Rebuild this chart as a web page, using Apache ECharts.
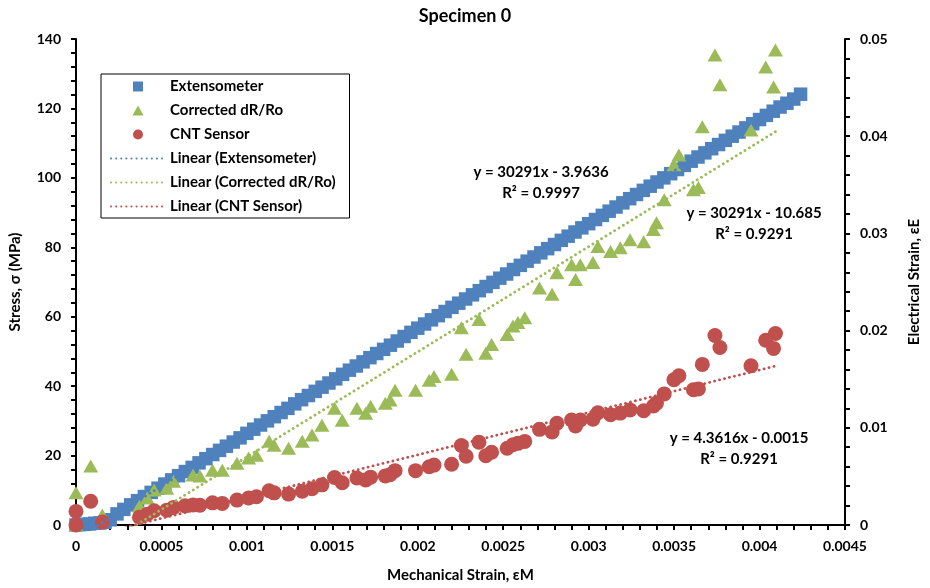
<!DOCTYPE html>
<html>
<head>
<meta charset="utf-8">
<script src="https://cdn.jsdelivr.net/npm/echarts@6/dist/echarts.min.js"></script>
<style>
  html, body { margin: 0; padding: 0; background: #fff; }
  #chart { width: 930px; height: 588px; }
</style>
</head>
<body>
<div id="chart"></div>
<script>
// extensometer: [mechanical strain, stress MPa]
const extensometer = [
  [0, 0], [0.00002, 0.1], [0.00005, 0.2], [0.00008, 0.3], [0.00011, 0.5], [0.00014, 0.6], [0.00017, 0.8], [0.0002, 1.5],
  [0.00024, 3.2], [0.00028, 4.5], [0.00032, 5.8], [0.00036, 7.0], [0.0004, 8.2], [0.00044, 9.4], [0.00048, 10.6], [0.00052, 11.8],
  [0.00056, 13.0], [0.0006, 14.2], [0.00064, 15.4], [0.00068, 16.6], [0.00072, 17.9], [0.00076, 19.1], [0.0008, 20.3], [0.00084, 21.5],
  [0.00088, 22.7], [0.00092, 23.9], [0.00096, 25.1], [0.001, 26.4], [0.00104, 27.6], [0.00108, 28.8], [0.00112, 30.0], [0.00116, 31.2],
  [0.0012, 32.4], [0.00124, 33.6], [0.00128, 34.9], [0.00132, 36.1], [0.00136, 37.3], [0.0014, 38.5], [0.00144, 39.7], [0.00148, 40.9],
  [0.00152, 42.1], [0.00156, 43.4], [0.0016, 44.6], [0.00164, 45.8], [0.00168, 47.0], [0.00172, 48.2], [0.00176, 49.4], [0.0018, 50.6],
  [0.00184, 51.8], [0.00188, 53.0], [0.00192, 54.3], [0.00196, 55.5], [0.002, 56.7], [0.00204, 57.9], [0.00208, 59.1], [0.00212, 60.3],
  [0.00216, 61.5], [0.0022, 62.7], [0.00224, 63.9], [0.00228, 65.1], [0.00232, 66.3], [0.00236, 67.5], [0.0024, 68.7], [0.00244, 69.9],
  [0.00248, 71.1], [0.00252, 72.3], [0.00256, 73.6], [0.0026, 74.8], [0.00264, 76.0], [0.00268, 77.2], [0.00272, 78.4], [0.00276, 79.6],
  [0.0028, 80.8], [0.00284, 82.0], [0.00288, 83.2], [0.00292, 84.4], [0.00296, 85.6], [0.003, 86.8], [0.00304, 88.0], [0.00308, 89.2],
  [0.00312, 90.4], [0.00316, 91.6], [0.0032, 92.8], [0.00324, 94.0], [0.00328, 95.2], [0.00332, 96.4], [0.00336, 97.6], [0.0034, 98.8],
  [0.00344, 100.0], [0.00348, 101.2], [0.00352, 102.4], [0.00356, 103.6], [0.0036, 104.8], [0.00364, 106.0], [0.00368, 107.2], [0.00372, 108.4],
  [0.00376, 109.6], [0.0038, 110.8], [0.00384, 112.0], [0.00388, 113.2], [0.00392, 114.4], [0.00396, 115.6], [0.004, 116.8], [0.00404, 118.0],
  [0.00408, 119.2], [0.00412, 120.4], [0.00416, 121.5], [0.0042, 122.7], [0.00424, 124.1]
];

// corrected dR/Ro: [mechanical strain, stress MPa]
const corrected = [
  [0, 0], [0, 9.3], [0.000086, 17.0], [0.000154, 2.9], [0.000371, 5.5], [0.000417, 7.8], [0.000457, 10.1], [0.000531, 10.6],
  [0.000571, 12.6], [0.000685, 14.4], [0.000725, 14.1], [0.000799, 15.8], [0.000856, 15.8], [0.000942, 17.8], [0.00101, 19.3], [0.001056, 20.1],
  [0.00113, 24.1], [0.001159, 23.0], [0.001244, 22.1], [0.001324, 24.1], [0.001381, 25.9], [0.001439, 28.7], [0.001513, 33.6], [0.001558, 30.2],
  [0.001644, 33.6], [0.001695, 32.2], [0.001724, 34.2], [0.00181, 35.1], [0.001838, 36.0], [0.001867, 38.8], [0.001987, 38.8], [0.002067, 41.7],
  [0.002095, 42.8], [0.002198, 43.4], [0.002255, 56.8], [0.002283, 49.2], [0.002358, 59.2], [0.002398, 49.5], [0.002432, 52.0], [0.002523, 54.9],
  [0.002557, 57.3], [0.002586, 58.3], [0.002626, 59.7], [0.002712, 68.3], [0.002786, 66.5], [0.002814, 72.7], [0.0029, 75.0], [0.002923, 70.7],
  [0.002951, 75.0], [0.003025, 75.6], [0.003054, 80.2], [0.003128, 78.8], [0.003185, 79.9], [0.003242, 82.2], [0.003322, 81.6], [0.003379, 85.1],
  [0.003397, 87.1], [0.003442, 93.7], [0.003499, 103.8], [0.003528, 106.6], [0.003613, 96.6], [0.003642, 97.2], [0.003665, 114.7], [0.003739, 135.4],
  [0.003768, 126.8], [0.00395, 113.8], [0.004036, 131.9], [0.004082, 126.2], [0.004093, 136.8]
];

// CNT sensor: [mechanical strain, electrical strain]
const cntSensor = [
  [0, 0], [0, 0.0014], [0.000086, 0.00245], [0.000154, 0.0003], [0.000371, 0.0008], [0.000417, 0.0011], [0.000457, 0.00146], [0.000531, 0.00153],
  [0.000571, 0.00181], [0.000639, 0.00197], [0.000685, 0.00207], [0.000725, 0.00203], [0.000799, 0.00228], [0.000856, 0.00222], [0.000942, 0.00256], [0.00101, 0.00278],
  [0.001056, 0.0029], [0.00113, 0.00352], [0.001159, 0.00331], [0.001244, 0.00318], [0.001324, 0.00347], [0.001381, 0.00373], [0.001439, 0.00413], [0.001513, 0.00488],
  [0.001558, 0.00435], [0.001644, 0.00484], [0.001695, 0.00464], [0.001724, 0.00492], [0.00181, 0.00505], [0.001838, 0.00518], [0.001867, 0.00559], [0.001987, 0.00559],
  [0.002067, 0.006], [0.002095, 0.00616], [0.002198, 0.00625], [0.002255, 0.00818], [0.002283, 0.00708], [0.002358, 0.00852], [0.002398, 0.00713], [0.002432, 0.00749],
  [0.002523, 0.0079], [0.002557, 0.00825], [0.002586, 0.0084], [0.002626, 0.0086], [0.002712, 0.00984], [0.002786, 0.00958], [0.002814, 0.01047], [0.0029, 0.0108],
  [0.002923, 0.01018], [0.002951, 0.0108], [0.003025, 0.01089], [0.003054, 0.01155], [0.003128, 0.01135], [0.003185, 0.01151], [0.003242, 0.01184], [0.003322, 0.01175],
  [0.003379, 0.01225], [0.003397, 0.01254], [0.003442, 0.01349], [0.003499, 0.01495], [0.003528, 0.01535], [0.003613, 0.01391], [0.003642, 0.014], [0.003665, 0.01652],
  [0.003739, 0.0195], [0.003768, 0.01826], [0.00395, 0.01639], [0.004036, 0.019], [0.004082, 0.01817], [0.004093, 0.0197]
];

const scatterNames = ["Extensometer", "Corrected dR/Ro", "CNT Sensor"];

// trendlines as printed on the chart
const trendNames = ["Linear (Extensometer)", "Linear (Corrected dR/Ro)", "Linear (CNT Sensor)"];
const trendSlope = [30291, 30291, 4.3616];
const trendIntercept = [-3.9636, -10.685, -0.0015];
const trendRange = [[0, 0.00424], [0, 0.004093], [0, 0.004093]];
const trendAxis = [0, 0, 1];
const trendText = [
  ["y = 30291x - 3.9636", "R² = 0.9997"],
  ["y = 30291x - 10.685", "R² = 0.9291"],
  ["y = 4.3616x - 0.0015", "R² = 0.9291"]
];
const trendTextPos = [[541, 162], [754, 203], [739, 428]];

const colors = ["#4F81BD", "#9BBB59", "#C0504D"];
const FONT = "Lato, 'Open Sans', sans-serif";

// legend icons keep their aspect only as paths
const legendIcons = [
    "path://M0,0H10V10H0Z",
    "path://M5,0L10,9L0,9Z",
    "path://M5,0A5,5,0,1,1,5,10A5,5,0,1,1,5,0Z"
];

const chart = echarts.init(document.getElementById("chart"));

const axisCommon = {
    axisLine: { show: true, onZero: false, lineStyle: { color: "#000", width: 2 } },
    axisTick: { show: true, inside: false, length: 5, lineStyle: { color: "#000", width: 2 } },
    minorTick: { show: true, splitNumber: 5, length: 5, lineStyle: { color: "#000", width: 2 } },
    splitLine: { show: false },
    nameTextStyle: { color: "#000", fontFamily: FONT, fontWeight: "bold", fontSize: 15 },
    axisLabel: { color: "#000", fontFamily: FONT, fontWeight: "bold", fontSize: 14 }
};

const trendSeries = trendNames.map((name, i) => {
    const [x0, x1] = trendRange[i];
    return {
        name: name,
        type: "line",
        yAxisIndex: trendAxis[i],
        data: [[x0, trendSlope[i] * x0 + trendIntercept[i]], [x1, trendSlope[i] * x1 + trendIntercept[i]]],
        showSymbol: false,
        symbol: "none",
        clip: true,
        silent: true,
        z: 5,
        itemStyle: { color: colors[i], opacity: 0 },
        lineStyle: { color: colors[i], width: 2.8, type: [0.1, 5], cap: "round" }
    };
});

chart.setOption({
    backgroundColor: "#fff",
    animation: false,

    title: {
        text: "Specimen 0",
        left: "center",
        top: 2,
        textStyle: { color: "#000", fontFamily: FONT, fontWeight: "bold", fontSize: 18 }
    },

    grid: { left: 70, right: 72, top: 39, bottom: 62, containLabel: false },

    legend: {
        orient: "vertical",
        left: 101,
        top: 74,
        padding: [5, 14, 4, 9],
        itemWidth: 54,
        itemHeight: 10,
        itemGap: 9,
        symbolKeepAspect: true,
        borderColor: "#000",
        borderWidth: 1,
        textStyle: { color: "#000", fontFamily: FONT, fontWeight: "bold", fontSize: 15 },
        data: scatterNames.map((n, i) => ({ name: n, icon: legendIcons[i] }))
            .concat(trendNames.map(n => ({ name: n })))
    },

    xAxis: Object.assign({}, axisCommon, {
        type: "value",
        min: 0,
        max: 0.0045,
        interval: 0.0005,
        name: "Mechanical Strain, εM",
        nameLocation: "middle",
        nameGap: 43,
        axisLabel: Object.assign({}, axisCommon.axisLabel, {
            margin: 14,
            formatter: v => String(+v.toFixed(4))
        })
    }),

    yAxis: [
        Object.assign({}, axisCommon, {
            type: "value",
            min: 0,
            max: 140,
            interval: 20,
            position: "left",
            name: "Stress, σ (MPa)",
            nameLocation: "middle",
            nameRotate: 90,
            nameGap: 53,
            axisLabel: Object.assign({}, axisCommon.axisLabel, { margin: 15 })
        }),
        Object.assign({}, axisCommon, {
            type: "value",
            min: 0,
            max: 0.05,
            interval: 0.01,
            position: "right",
            name: "Electrical Strain, εE",
            nameLocation: "middle",
            nameRotate: 90,
            nameGap: 62,
            axisLabel: Object.assign({}, axisCommon.axisLabel, {
                margin: 15,
                formatter: v => String(+v.toFixed(2))
            })
        })
    ],

    graphic: trendText.map((t, i) => ({
        type: "text",
        x: trendTextPos[i][0],
        y: trendTextPos[i][1],
        z: 20,
        style: {
            text: t.join("\n"),
            align: "center",
            verticalAlign: "top",
            lineHeight: 21,
            fill: "#000",
            font: "bold 15px " + FONT
        }
    })),

    series: [
        {
            name: scatterNames[0],
            type: "scatter",
            symbol: "rect",
            symbolSize: 13.5,
            data: extensometer,
            z: 2,
            itemStyle: { color: colors[0], opacity: 1 }
        },
        {
            name: scatterNames[1],
            type: "scatter",
            symbol: "triangle",
            symbolSize: [15, 13],
            data: corrected,
            z: 3,
            itemStyle: { color: colors[1], opacity: 1 }
        },
        {
            name: scatterNames[2],
            type: "scatter",
            yAxisIndex: 1,
            symbol: "circle",
            symbolSize: 15,
            data: cntSensor,
            z: 4,
            itemStyle: { color: colors[2], opacity: 1 }
        }
    ].concat(trendSeries)
});
</script>
</body>
</html>
